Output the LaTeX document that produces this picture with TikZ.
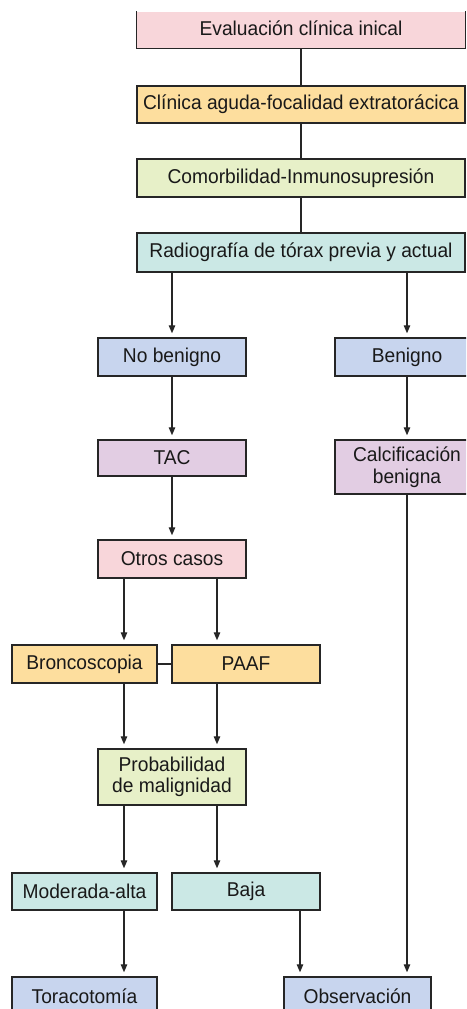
\documentclass[tikz,border=0pt]{standalone}
\usepackage{fontspec}
\setmainfont{Liberation Sans}[FakeStretch=0.96]
\usetikzlibrary{arrows.meta}

\definecolor{cpink}{HTML}{F8D6DA}
\definecolor{corange}{HTML}{FDDE9E}
\definecolor{cgreen}{HTML}{E7F0C8}
\definecolor{cteal}{HTML}{CBE8E5}
\definecolor{cblue}{HTML}{C8D5EE}
\definecolor{cpurple}{HTML}{E2CDE3}

\begin{document}
\begin{tikzpicture}[x=1pt, y=-1pt,
	box/.style = {draw=black!85, line width=1.4pt, inner sep=0pt, align=center,
		text=black!90, font=\fontsize{20}{21.5}\selectfont},
	wide/.style = {box, minimum width=328pt, minimum height=37pt},
	mid/.style = {box, minimum width=148pt, minimum height=38pt},
	sml/.style = {box, minimum width=145pt, minimum height=38pt},
	link/.style = {draw=black!85, line width=1.2pt},
	arr/.style = {link, -{Triangle[length=8pt,width=6.5pt]}, shorten >=4pt}]
	\clip (0,0) rectangle (466,1009);
	
	\node [wide, fill=cpink, draw=none, minimum height=36pt] (eval) at (301,30) {\raisebox{4pt}{Evaluación clínica inical}};
	\draw [link, line width=1.4pt] (eval.north west) |- (eval.south east) -- (eval.north east);
	\node [wide, fill=corange] (clin) at (301,104.5) {Clínica aguda-focalidad extratorácica};
	\node [wide, fill=cgreen, minimum height=38pt] (comor) at (301,178) {Comorbilidad-Inmunosupresión};
	\node [wide, fill=cteal, minimum height=39pt] (radio) at (301,252.5) {Radiografía de tórax previa y actual};
	
	\node [mid, fill=cblue] (nobenigno) at (172,357) {No benigno};
	\node [box, fill=cblue, minimum width=144pt, minimum height=38pt] (benigno) at (407,357) {Benigno};
	\node [mid, fill=cpurple, minimum height=36pt] (tac) at (172,458) {TAC};
	\node [box, fill=cpurple, minimum width=144pt, minimum height=54pt] (calc) at (407,467) {Calcificación\\benigna};
	\node [mid, fill=cpink] (otros) at (172,559) {Otros casos};
	
	\node [sml, fill=corange] (bronco) at (84.5,664) {Broncoscopia};
	\node [mid, fill=corange] (paaf) at (246,664) {PAAF};
	\node [mid, fill=cgreen, minimum height=56pt] (prob) at (172,777) {Probabilidad\\de malignidad};
	\node [sml, fill=cteal, minimum height=37pt] (mod) at (84.5,891.5) {Moderada-alta};
	\node [mid, fill=cteal, minimum height=37pt] (baja) at (246,891.5) {Baja};
	\node [sml, fill=cblue] (tora) at (84.5,996) {Toracotomía};
	\node [box, fill=cblue, minimum width=147pt, minimum height=38pt] (obs) at (357.5,996) {Observación};
	
	\coordinate (lx) at (124,0);
	\coordinate (rx) at (217,0);
	\coordinate (bx) at (300,0);
	
	\draw [link] (eval) -- (clin);
	\draw [link] (clin) -- (comor);
	\draw [link] (comor) -- (radio);
	
	\draw [arr] (radio.south -| nobenigno) -- (nobenigno);
	\draw [arr] (radio.south -| benigno) -- (benigno);
	\draw [arr] (nobenigno) -- (tac);
	\draw [arr] (benigno) -- (calc);
	\draw [arr] (tac) -- (otros);
	
	\draw [arr] (otros.south -| lx) -- (bronco.north -| lx);
	\draw [arr] (otros.south -| rx) -- (paaf.north -| rx);
	\draw [link] (bronco) -- (paaf);
	\draw [arr] (bronco.south -| lx) -- (prob.north -| lx);
	\draw [arr] (paaf.south -| rx) -- (prob.north -| rx);
	
	\draw [arr] (prob.south -| lx) -- (mod.north -| lx);
	\draw [arr] (prob.south -| rx) -- (baja.north -| rx);
	\draw [arr] (mod.south -| lx) -- (tora.north -| lx);
	\draw [arr] (baja.south -| bx) -- (obs.north -| bx);
	\draw [arr] (calc) -- (obs.north -| calc);
	
\end{tikzpicture}
\end{document}
